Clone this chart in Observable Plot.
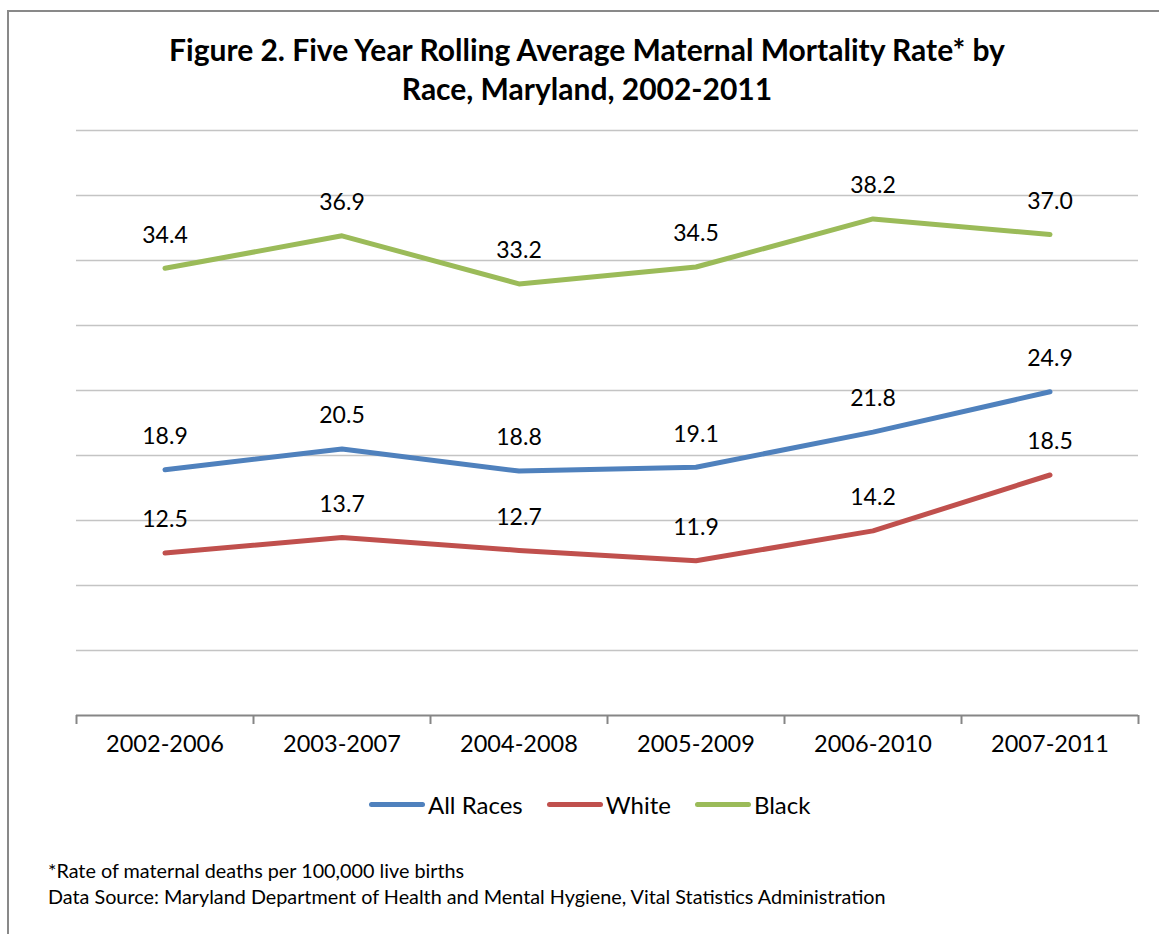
<!DOCTYPE html>
<html>
<head>
<meta charset="utf-8">
<script src="https://cdn.jsdelivr.net/npm/d3@7"></script>
<script src="https://cdn.jsdelivr.net/npm/@observablehq/plot@0.6"></script>
<style>
  html, body { margin: 0; padding: 0; background: #fff; }
  body { width: 1159px; height: 934px; overflow: hidden; position: relative; font-family: Lato, "Noto Sans", sans-serif; color: #000; }
  #frame { position: absolute; left: 7px; top: 10px; width: 1200px; height: 1000px; border-top: 2px solid #898989; border-left: 2px solid #898989; }
  #title { position: absolute; left: 0; width: 1174px; top: 30px; text-align: center; font-weight: 700; font-size: 30px; line-height: 39px; }
  #chart { position: absolute; left: 0; top: 120px; }
  #legend { position: absolute; left: 369px; top: 789px; display: flex; align-items: center; font-size: 24px; height: 30px; }
  .item { display: flex; align-items: center; margin-right: 24px; }
  .sw { width: 56px; height: 5px; border-radius: 3px; margin-right: 3px; }
  #notes { position: absolute; left: 48px; top: 857px; font-size: 19.8px; line-height: 26px; }
</style>
</head>
<body>
<div id="frame"></div>
<div id="title">Figure 2. Five Year Rolling Average Maternal Mortality Rate* by<br>Race, Maryland, 2002-2011</div>
<div id="chart"></div>
<div id="legend"></div>
<div id="notes">*Rate of maternal deaths per 100,000 live births<br>Data Source: Maryland Department of Health and Mental Hygiene, Vital Statistics Administration</div>
<script>
const periods = ["2002-2006", "2003-2007", "2004-2008", "2005-2009", "2006-2010", "2007-2011"];
const allRaces = [18.9, 20.5, 18.8, 19.1, 21.8, 24.9];
const white = [12.5, 13.7, 12.7, 11.9, 14.2, 18.5];
const black = [34.4, 36.9, 33.2, 34.5, 38.2, 37.0];
const seriesNames = ["All Races", "White", "Black"];
const seriesColors = ["#4F81BD", "#C0504D", "#9BBB59"];
const gridValues = [5, 10, 15, 20, 25, 30, 35, 40, 45];

const seriesValues = [allRaces, white, black];
const rows = seriesNames.flatMap((name, s) =>
  seriesValues[s].map((v, i) => ({series: name, i, period: periods[i], value: v})));

const boundaries = d3.range(-0.5, periods.length, 1);

const chart = Plot.plot({
  width: 1159,
  height: 660,
  marginTop: 10,
  marginBottom: 65,
  marginLeft: 76,
  marginRight: 21,
  style: {fontFamily: "Lato, 'Noto Sans', sans-serif", fontSize: "23px", color: "#000", background: "transparent"},
  x: {type: "linear", domain: [-0.5, periods.length - 0.5]},
  y: {domain: [0, 45], axis: null},
  color: {domain: seriesNames, range: seriesColors},
  marks: [
    Plot.ruleY(gridValues, {stroke: "#c4c4c4", strokeWidth: 1.5}),
    Plot.axisX({ticks: boundaries, tickFormat: () => "", tickSize: 9, stroke: "#868686", strokeWidth: 2, label: null}),
    Plot.axisX({ticks: d3.range(periods.length), tickFormat: i => periods[i], tickSize: 0, tickPadding: 20, fontSize: 23.5, label: null}),
    Plot.ruleY([0], {stroke: "#868686", strokeWidth: 2}),
    Plot.line(rows, {x: "i", y: "value", z: "series", stroke: "series", strokeWidth: 5, strokeLinecap: "round", strokeLinejoin: "round"}),
    Plot.text(rows, {x: "i", y: "value", text: d => d.value.toFixed(1), dy: -33, fontSize: 23, fill: "#000"})
  ]
});
document.getElementById("chart").appendChild(chart);

const legend = document.getElementById("legend");
seriesNames.forEach((name, s) => {
  const item = document.createElement("div");
  item.className = "item";
  const sw = document.createElement("div");
  sw.className = "sw";
  sw.style.background = seriesColors[s];
  const label = document.createElement("span");
  label.textContent = name;
  item.appendChild(sw);
  item.appendChild(label);
  legend.appendChild(item);
});
</script>
</body>
</html>
